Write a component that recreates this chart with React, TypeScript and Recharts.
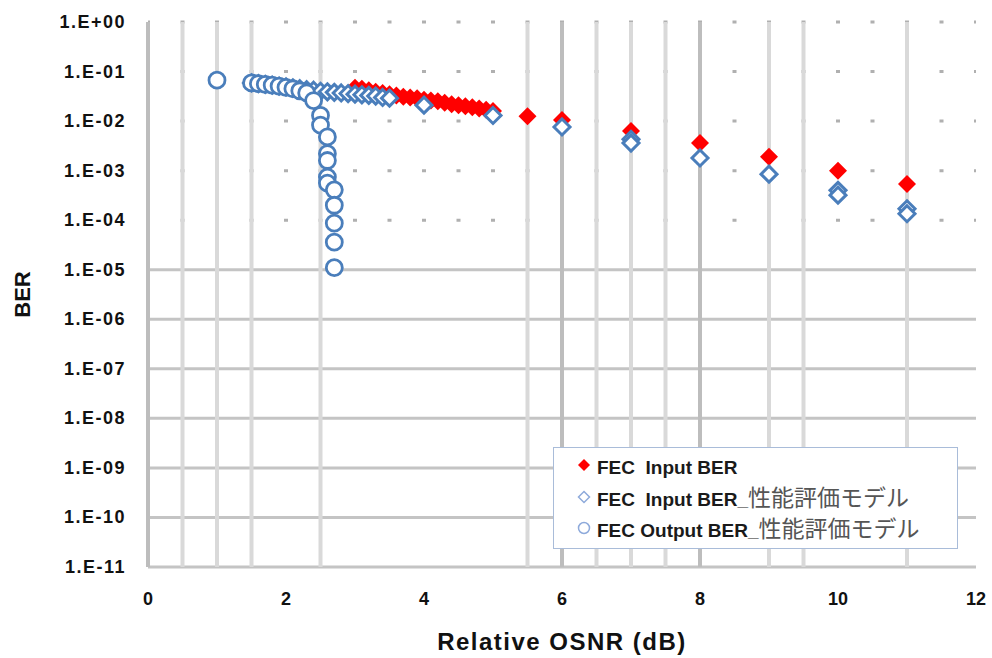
import React from "react"
import { ScatterChart, Scatter, XAxis, YAxis, ReferenceLine, Legend, Label } from "recharts"

// FEC Input BER (measured)
const inputX = [3.0, 3.1, 3.2, 3.3, 3.4, 3.5, 3.6, 3.7, 3.8, 3.9, 4.0, 4.1, 4.2, 4.3, 4.4, 4.5, 4.6, 4.7, 4.8, 4.9, 5.0, 5.5, 6, 7, 8, 9, 10, 11]
const inputBer = [4.7e-2, 4.5e-2, 4.2e-2, 3.9e-2, 3.7e-2, 3.5e-2, 3.3e-2, 3.1e-2, 3.0e-2, 2.9e-2, 2.7e-2, 2.6e-2, 2.5e-2, 2.35e-2, 2.2e-2, 2.1e-2, 2.0e-2, 1.9e-2, 1.8e-2, 1.7e-2, 1.6e-2, 1.25e-2, 1.05e-2, 6.3e-3, 3.6e-3, 1.9e-3, 1.0e-3, 5.4e-4]

// FEC Input BER, model
const modelInX = [1.5, 1.6, 1.7, 1.8, 1.9, 2.0, 2.1, 2.2, 2.3, 2.4, 2.5, 2.6, 2.7, 2.8, 2.9, 3.0, 3.1, 3.2, 3.3, 3.4, 3.5, 4, 5, 6, 7, 7, 8, 9, 10, 10, 11, 11]
const modelInBer = [5.9e-2, 5.7e-2, 5.5e-2, 5.3e-2, 5.1e-2, 4.9e-2, 4.7e-2, 4.5e-2, 4.3e-2, 4.2e-2, 4.0e-2, 3.9e-2, 3.8e-2, 3.7e-2, 3.6e-2, 3.5e-2, 3.4e-2, 3.3e-2, 3.2e-2, 3.0e-2, 2.9e-2, 2.1e-2, 1.3e-2, 7.6e-3, 4.3e-3, 3.6e-3, 1.8e-3, 8.5e-4, 4.0e-4, 3.2e-4, 1.7e-4, 1.35e-4]

// FEC Output BER, model
const modelOutX = [1.0, 1.5, 1.6, 1.7, 1.8, 1.9, 2.0, 2.1, 2.2, 2.3, 2.4, 2.5, 2.5, 2.6, 2.6, 2.6, 2.6, 2.6, 2.7, 2.7, 2.7, 2.7, 2.7]
const modelOutBer = [6.7e-2, 5.9e-2, 5.7e-2, 5.5e-2, 5.3e-2, 5.1e-2, 4.8e-2, 4.5e-2, 4.1e-2, 3.7e-2, 2.6e-2, 1.3e-2, 8.3e-3, 4.8e-3, 2.2e-3, 1.6e-3, 7.4e-4, 5.6e-4, 4.1e-4, 2.0e-4, 8.7e-5, 3.6e-5, 1.1e-5]

const xTicks = [0, 2, 4, 6, 8, 10, 12]
const yTicks = [1, 1e-1, 1e-2, 1e-3, 1e-4, 1e-5, 1e-6, 1e-7, 1e-8, 1e-9, 1e-10, 1e-11]
const yTickLabels = ["1.E+00", "1.E-01", "1.E-02", "1.E-03", "1.E-04", "1.E-05", "1.E-06", "1.E-07", "1.E-08", "1.E-09", "1.E-10", "1.E-11"]

// gridlines as they show in the picture
const xGridLight = [0.5, 1, 1.5, 2.5, 5.5, 6.5, 7, 7.5, 9, 9.5, 11]
const xGridDark = [0, 6, 8]
const yGridSolid = [1e-5, 1e-6, 1e-7, 1e-8, 1e-9, 1e-10, 1e-11]
const yGridDotted = [1, 1e-1, 1e-2, 1e-3, 1e-4]

const legendItems = [
  { name: "FEC  Input BER", jp: "", marker: "red" },
  { name: "FEC  Input BER_", jp: "性能評価モデル", marker: "diamond" },
  { name: "FEC Output BER_", jp: "性能評価モデル", marker: "circle" },
]

const BLUE = "#4a7ebb"
const RED = "#ff0000"
const FONT = "'Liberation Sans', Arial, sans-serif"

const toPoints = (xs: number[], ys: number[]) => xs.map((x, i) => ({ x, y: ys[i] }))

const RedDiamond = (props: any) => {
  const { cx, cy } = props
  return <path d={`M${cx},${cy - 9}L${cx + 9},${cy}L${cx},${cy + 9}L${cx - 9},${cy}Z`} fill={RED} />
}

const BlueDiamond = (props: any) => {
  const { cx, cy } = props
  return (
    <path
      d={`M${cx},${cy - 8}L${cx + 8},${cy}L${cx},${cy + 8}L${cx - 8},${cy}Z`}
      fill="#fff"
      stroke={BLUE}
      strokeWidth={3}
    />
  )
}

const BlueCircle = (props: any) => {
  const { cx, cy } = props
  return <circle cx={cx} cy={cy} r={8} fill="#fff" stroke={BLUE} strokeWidth={2.8} />
}

const YTick = (props: any) => {
  const { x, y, payload, index } = props
  return (
    <text x={x} y={y} dy={6} textAnchor="end" fill="#111" fontFamily={FONT} fontWeight={700} fontSize={18} style={{ letterSpacing: 1.5 }}>
      {yTickLabels[index] ?? payload.value}
    </text>
  )
}

const XTick = (props: any) => {
  const { x, y, payload } = props
  return (
    <text x={x} y={y} dy={14} textAnchor="middle" fill="#111" fontFamily={FONT} fontWeight={700} fontSize={18}>
      {payload.value}
    </text>
  )
}

const LegendMarker = ({ kind }: { kind: string }) => (
  <svg width={16} height={16} style={{ position: "absolute", left: 22, top: 8 }}>
    {kind === "red" && <path d="M8,2L14,8L8,14L2,8Z" fill={RED} />}
    {kind === "diamond" && <path d="M8,2.5L13.5,8L8,13.5L2.5,8Z" fill="#fff" stroke="#8eaadb" strokeWidth={1.5} />}
    {kind === "circle" && <circle cx={8} cy={8} r={5.5} fill="#fff" stroke="#8eaadb" strokeWidth={1.5} />}
  </svg>
)

const LegendBox = () => (
  <div
    style={{
      width: 405,
      height: 102,
      boxSizing: "border-box",
      border: "1px solid #a9bcd9",
      background: "#fff",
      paddingTop: 1,
    }}
  >
    {legendItems.map((item) => (
      <div key={item.name + item.jp} style={{ position: "relative", height: 31.5, lineHeight: "31.5px", whiteSpace: "nowrap" }}>
        <LegendMarker kind={item.marker} />
        <span style={{ position: "absolute", left: 43, top: 0 }}>
          <span style={{ fontFamily: FONT, fontWeight: 700, fontSize: 19, color: "#1a1a1a", whiteSpace: "pre" }}>{item.name}</span>
          <span style={{ fontFamily: "'Noto Sans CJK JP', sans-serif", fontSize: 23, color: "#555" }}>{item.jp}</span>
        </span>
      </div>
    ))}
  </div>
)

export default function App() {
  return (
    <div style={{ position: "absolute", left: 0, top: 0, background: "#fff" }}>
      <ScatterChart width={992} height={658} margin={{ top: 22, right: 16, bottom: 0, left: 0 }}>
        <XAxis
          type="number"
          dataKey="x"
          domain={[0, 12]}
          ticks={xTicks}
          tick={<XTick />}
          tickLine={false}
          axisLine={false}
          tickSize={0}
          tickMargin={24}
          height={91}
          interval={0}
        >
          <Label
            value="Relative OSNR (dB)"
            position="insideBottom"
            offset={8}
            style={{ fontFamily: FONT, fontWeight: 700, fontSize: 24, fill: "#111", letterSpacing: 1.5 }}
          />
        </XAxis>
        <YAxis
          type="number"
          dataKey="y"
          scale="log"
          domain={[1e-11, 1]}
          ticks={yTicks}
          tick={<YTick />}
          tickLine={false}
          axisLine={false}
          tickSize={0}
          tickMargin={22}
          width={148}
          interval={0}
          allowDataOverflow
        >
          <Label
            value="BER"
            angle={-90}
            position="insideLeft"
            offset={22}
            style={{ fontFamily: FONT, fontWeight: 700, fontSize: 22, fill: "#111", textAnchor: "middle" }}
          />
        </YAxis>

        {yGridDotted.map((v) => (
          <ReferenceLine key={"yd" + v} y={v} stroke="#b0b0b0" strokeWidth={3} strokeDasharray="4 30.5" strokeDashoffset={2} />
        ))}
        {yGridSolid.map((v) => (
          <ReferenceLine key={"ys" + v} y={v} stroke="#c4c4c4" strokeWidth={3} />
        ))}
        {xGridLight.map((v) => (
          <ReferenceLine key={"xl" + v} x={v} stroke="#d9d9d9" strokeWidth={4} />
        ))}
        {xGridDark.map((v) => (
          <ReferenceLine key={"xd" + v} x={v} stroke="#bdbdbd" strokeWidth={4} />
        ))}

        <Scatter name="FEC Input BER" data={toPoints(inputX, inputBer)} shape={<RedDiamond />} isAnimationActive={false} />
        <Scatter name="FEC Input BER_性能評価モデル" data={toPoints(modelInX, modelInBer)} shape={<BlueDiamond />} isAnimationActive={false} />
        <Scatter name="FEC Output BER_性能評価モデル" data={toPoints(modelOutX, modelOutBer)} shape={<BlueCircle />} isAnimationActive={false} />

        <Legend
          layout="horizontal"
          verticalAlign="middle"
          align="center"
          content={<LegendBox />}
          wrapperStyle={{ position: "absolute", left: 553, top: 447, width: 405, height: 102 }}
        />
      </ScatterChart>
    </div>
  )
}
